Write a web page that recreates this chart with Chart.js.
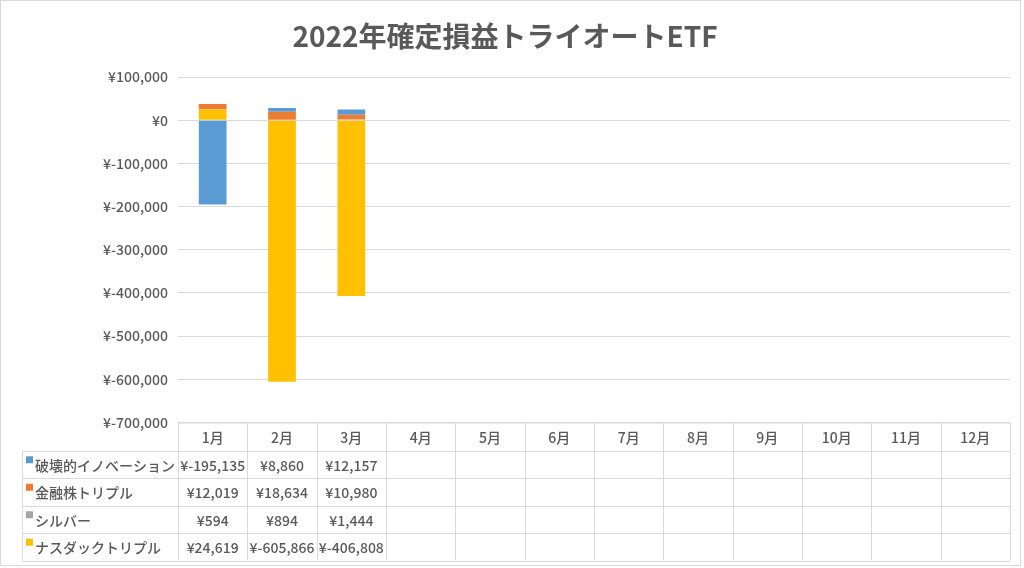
<!DOCTYPE html>
<html>
<head>
<meta charset="utf-8">
<script src="https://cdn.jsdelivr.net/npm/chart.js@4"></script>
<style>
  html, body { margin: 0; padding: 0; background: #fff; }
  #wrap { width: 1024px; height: 568px; }
</style>
</head>
<body>
<div id="wrap"><canvas id="etfChart" width="1024" height="568"></canvas></div>
<script>
// ----- Data -----
const months = ["1月", "2月", "3月", "4月", "5月", "6月", "7月", "8月", "9月", "10月", "11月", "12月"];
const destructiveInnovation = [-195135, 8860, 12157, null, null, null, null, null, null, null, null, null];
const financialTriple = [12019, 18634, 10980, null, null, null, null, null, null, null, null, null];
const silver = [594, 894, 1444, null, null, null, null, null, null, null, null, null];
const nasdaqTriple = [24619, -605866, -406808, null, null, null, null, null, null, null, null, null];
const yTicks = [100000, 0, -100000, -200000, -300000, -400000, -500000, -600000, -700000];

const TEXT = "#595959";
const GRID = "#d9d9d9";
const FONT = "'Noto Sans CJK JP', 'Noto Sans', sans-serif";

// rows of the data table (display order)
const series = [
  { name: "破壊的イノベーション", data: destructiveInnovation, color: "#5B9BD5" },
  { name: "金融株トリプル", data: financialTriple, color: "#ED7D31" },
  { name: "シルバー", data: silver, color: "#A5A5A5" },
  { name: "ナスダックトリプル", data: nasdaqTriple, color: "#FFC000" }
];

const yen = (v) => "¥" + v.toLocaleString("en-US");

// ----- Data table + frame plugin -----
const dataTablePlugin = {
  id: "dataTable",
  afterDraw(chart) {
    const { ctx, chartArea: { left, right, bottom }, scales: { x } } = chart;
    const colW = (right - left) / months.length;
    const headH = 28, rowH = 27.5;
    const tblLeft = 22;
    const top = bottom;
    const tblBottom = top + headH + rowH * series.length;

    ctx.save();
    ctx.strokeStyle = GRID;
    ctx.lineWidth = 1;
    ctx.beginPath();
    // horizontal lines
    ctx.moveTo(left, top + 0.5); ctx.lineTo(right, top + 0.5);
    for (let r = 0; r <= series.length; r++) {
      const yy = Math.round(top + headH + r * rowH) + 0.5;
      ctx.moveTo(tblLeft, yy); ctx.lineTo(right, yy);
    }
    // vertical lines
    ctx.moveTo(tblLeft + 0.5, top + headH); ctx.lineTo(tblLeft + 0.5, tblBottom);
    for (let c = 0; c <= months.length; c++) {
      const xx = Math.round(left + c * colW) + 0.5;
      ctx.moveTo(xx, top); ctx.lineTo(xx, tblBottom);
    }
    ctx.stroke();

    ctx.fillStyle = TEXT;
    ctx.font = "500 14px " + FONT;
    ctx.textBaseline = "middle";
    ctx.textAlign = "center";
    months.forEach((m, i) => {
      ctx.fillText(m, x.getPixelForValue(i), top + headH / 2 + 1);
    });

    series.forEach((s, r) => {
      const cy = top + headH + r * rowH + rowH / 2 + 1;
      ctx.fillStyle = s.color;
      ctx.fillRect(26, cy - 9, 7, 7);
      ctx.fillStyle = TEXT;
      ctx.textAlign = "left";
      ctx.fillText(s.name, 35, cy);
      ctx.textAlign = "center";
      s.data.forEach((v, i) => {
        if (v === null) return;
        ctx.fillText(yen(v), x.getPixelForValue(i), cy);
      });
    });

    // outer chart frame
    ctx.strokeStyle = GRID;
    ctx.strokeRect(0.5, 0.5, 1020, 565);
    ctx.restore();
  }
};

// ----- Chart -----
const ctx = document.getElementById("etfChart").getContext("2d");
new Chart(ctx, {
  type: "bar",
  data: {
    labels: months,
    // stacking order from the zero line outwards: yellow, gray, orange, blue
    datasets: [...series].reverse().map((s) => ({
      label: s.name,
      data: s.data,
      backgroundColor: s.color,
      borderWidth: 0,
      barPercentage: 0.4,
      categoryPercentage: 1
    }))
  },
  options: {
    responsive: false,
    animation: false,
    layout: { padding: { left: 0, right: 14, top: 0, bottom: 145.5 } },
    plugins: {
      legend: { display: false },
      tooltip: { enabled: false },
      title: {
        display: true,
        text: "2022年確定損益トライオートETF",
        color: TEXT,
        font: { family: FONT, size: 28, weight: "bold", lineHeight: 1.2 },
        padding: { top: 20, bottom: 23.4 }
      }
    },
    scales: {
      x: {
        stacked: true,
        display: false
      },
      y: {
        stacked: true,
        min: -700000,
        max: 100000,
        afterFit(scale) { scale.width = 178; },
        afterBuildTicks(scale) { scale.ticks = yTicks.map((v) => ({ value: v })); },
        ticks: {
          color: TEXT,
          font: { family: FONT, size: 14, weight: 500 },
          padding: 10,
          callback: (v) => yen(v)
        },
        grid: { color: GRID, drawTicks: false },
        border: { display: false }
      }
    }
  },
  plugins: [dataTablePlugin]
});
</script>
</body>
</html>
